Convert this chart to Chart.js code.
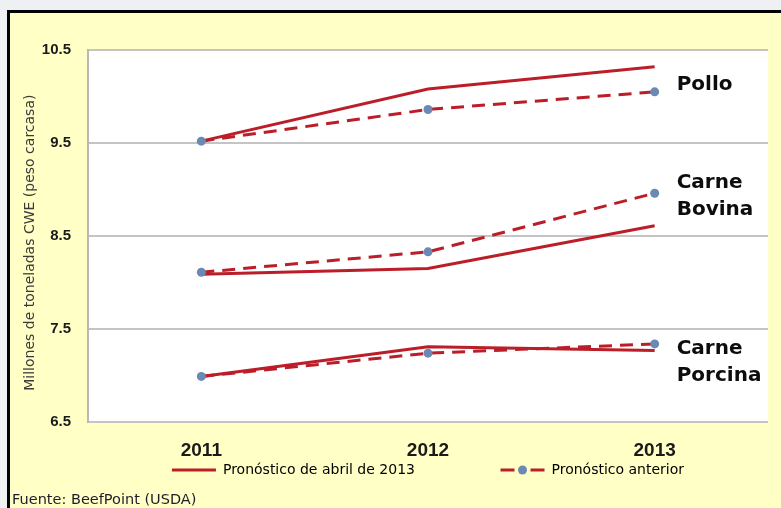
<!DOCTYPE html>
<html>
<head>
<meta charset="utf-8">
<script src="https://cdn.jsdelivr.net/npm/chart.js@4"></script>
<style>
  html, body { margin: 0; padding: 0; }
  body { width: 781px; height: 508px; background: #eef0f3; overflow: hidden; position: relative; }
  #frame {
    position: absolute; left: 7px; top: 10px; width: 771px; height: 495px;
    border-top: 3px solid #000; border-left: 3px solid #000;
    background: #ffffc6;
  }
  #wrap { position: absolute; left: 0; top: 0; width: 771px; height: 495px; }
  #source {
    position: absolute; left: 12px; top: 492px;
    font: 14.5px "DejaVu Sans", sans-serif; line-height: 1; color: #1c1c2a;
    white-space: nowrap;
  }
</style>
</head>
<body>
<div id="frame"><div id="wrap"><canvas id="chart"></canvas></div></div>
<div id="source">Fuente: BeefPoint (USDA)</div>
<script>
const YEARS = ['2011', '2012', '2013'];
const Y_TICKS = [6.5, 7.5, 8.5, 9.5, 10.5];

const POLLO_ABRIL = [9.52, 10.08, 10.32];
const POLLO_ANTERIOR = [9.52, 9.86, 10.05];
const BOVINA_ABRIL = [8.09, 8.15, 8.61];
const BOVINA_ANTERIOR = [8.11, 8.33, 8.96];
const PORCINA_ABRIL = [6.99, 7.31, 7.27];
const PORCINA_ANTERIOR = [6.99, 7.24, 7.34];

const SERIES_NAMES = [['Pollo'], ['Carne', 'Bovina'], ['Carne', 'Porcina']];
const NAME_ANCHORS = [10.13, 8.93, 7.14];

const LEGEND_TEXT = ['Pronóstico de abril de 2013', 'Pronóstico anterior'];

const RED = '#bb1e28';
const MARKER = '#6a89b3';

function solid(data) {
    return { data: data, borderColor: RED, borderWidth: 3, pointRadius: 0, tension: 0, order: 1 };
}
function dashed(data) {
    return {
        data: data, borderColor: RED, borderWidth: 3, borderDash: [13, 8],
        pointRadius: 4.5, pointBackgroundColor: MARKER, pointBorderWidth: 0, tension: 0, order: 0
    };
}

// white plot background
const plotBg = {
    id: 'plotBg',
    beforeDraw(chart) {
        const a = chart.chartArea;
        chart.ctx.save();
        chart.ctx.fillStyle = '#ffffff';
        chart.ctx.fillRect(a.left, a.top, a.right - a.left, a.bottom - a.top);
        chart.ctx.restore();
    }
};

// series names right of the last year
const seriesNames = {
    id: 'seriesNames',
    afterDatasetsDraw(chart) {
        const ctx = chart.ctx;
        const x = chart.scales.x.getPixelForValue(YEARS.length - 1) + 22;
        ctx.save();
        ctx.font = 'bold 20px "DejaVu Sans", sans-serif';
        ctx.fillStyle = '#0d0d0d';
        ctx.textBaseline = 'middle';
        SERIES_NAMES.forEach((lines, i) => {
            const yc = chart.scales.y.getPixelForValue(NAME_ANCHORS[i]);
            const lh = 27;
            lines.forEach((t, j) => {
                ctx.fillText(t, x, yc + (j - (lines.length - 1) / 2) * lh);
            });
        });
        ctx.restore();
    }
};

// marker in the middle of the dashed legend sample
const legendMarker = {
    id: 'legendMarker',
    afterDraw(chart) {
        const box = chart.legend.legendHitBoxes[1];
        if (!box) return;
        const ctx = chart.ctx;
        ctx.save();
        ctx.fillStyle = MARKER;
        ctx.beginPath();
        ctx.arc(box.left + 22, box.top + 7, 4.5, 0, Math.PI * 2);
        ctx.fill();
        ctx.restore();
    }
};

const chartConfig = {
    type: 'line',
    data: {
        labels: YEARS,
        datasets: [
            solid(POLLO_ABRIL), solid(BOVINA_ABRIL), solid(PORCINA_ABRIL),
            dashed(POLLO_ANTERIOR), dashed(BOVINA_ANTERIOR), dashed(PORCINA_ANTERIOR)
        ]
    },
    options: {
        responsive: true,
        maintainAspectRatio: false,
        animation: false,
        layout: { padding: { top: 37, right: 13, bottom: 21, left: 0 } },
        plugins: {
            tooltip: { enabled: false },
            legend: {
                position: 'bottom',
                fullSize: false,
                labels: {
                    usePointStyle: true,
                    pointStyleWidth: 44,
                    padding: 1,
                    color: '#262626',
                    font: { family: '"DejaVu Sans", sans-serif', size: 14 },
                    generateLabels() {
                        return [
                            {
                                text: LEGEND_TEXT[0] + '                   ',
                                pointStyle: 'line', strokeStyle: RED, fillStyle: RED,
                                lineWidth: 3, lineDash: [], datasetIndex: 0
                            },
                            {
                                text: LEGEND_TEXT[1],
                                pointStyle: 'line', strokeStyle: RED, fillStyle: RED,
                                lineWidth: 3, lineDash: [14, 16], datasetIndex: 3
                            }
                        ];
                    }
                }
            }
        },
        scales: {
            x: {
                offset: true,
                grid: { display: false, drawTicks: false },
                border: { display: false },
                ticks: {
                    padding: 17,
                    color: '#1a1a1a',
                    font: { family: '"Liberation Sans", Arial, sans-serif', size: 19, weight: 'bold' }
                },
                afterFit(scale) { scale.height = 40; }
            },
            y: {
                min: 6.5,
                max: 10.5,
                afterBuildTicks(scale) { scale.ticks = Y_TICKS.map(v => ({ value: v })); },
                grid: { color: '#c4c4c4', lineWidth: 2, drawTicks: false },
                border: { display: true, color: '#b8b8b8', width: 2 },
                ticks: {
                    padding: 17,
                    color: '#1a1a1a',
                    font: { family: '"Liberation Sans", Arial, sans-serif', size: 15, weight: 'bold' },
                    callback: v => v.toFixed(1)
                },
                title: {
                    display: true,
                    // trailing spaces nudge the rotated title down a little
                    text: 'Millones de toneladas CWE (peso carcasa)   ',
                    color: '#3a3a3a',
                    padding: { top: 12, bottom: 0 },
                    font: { family: '"DejaVu Sans", sans-serif', size: 14 }
                },
                afterFit(scale) { scale.width = 78; }
            }
        }
    },
    plugins: [plotBg, seriesNames, legendMarker]
};

const lineChart = new Chart(document.getElementById('chart'), chartConfig);
</script>
</body>
</html>
